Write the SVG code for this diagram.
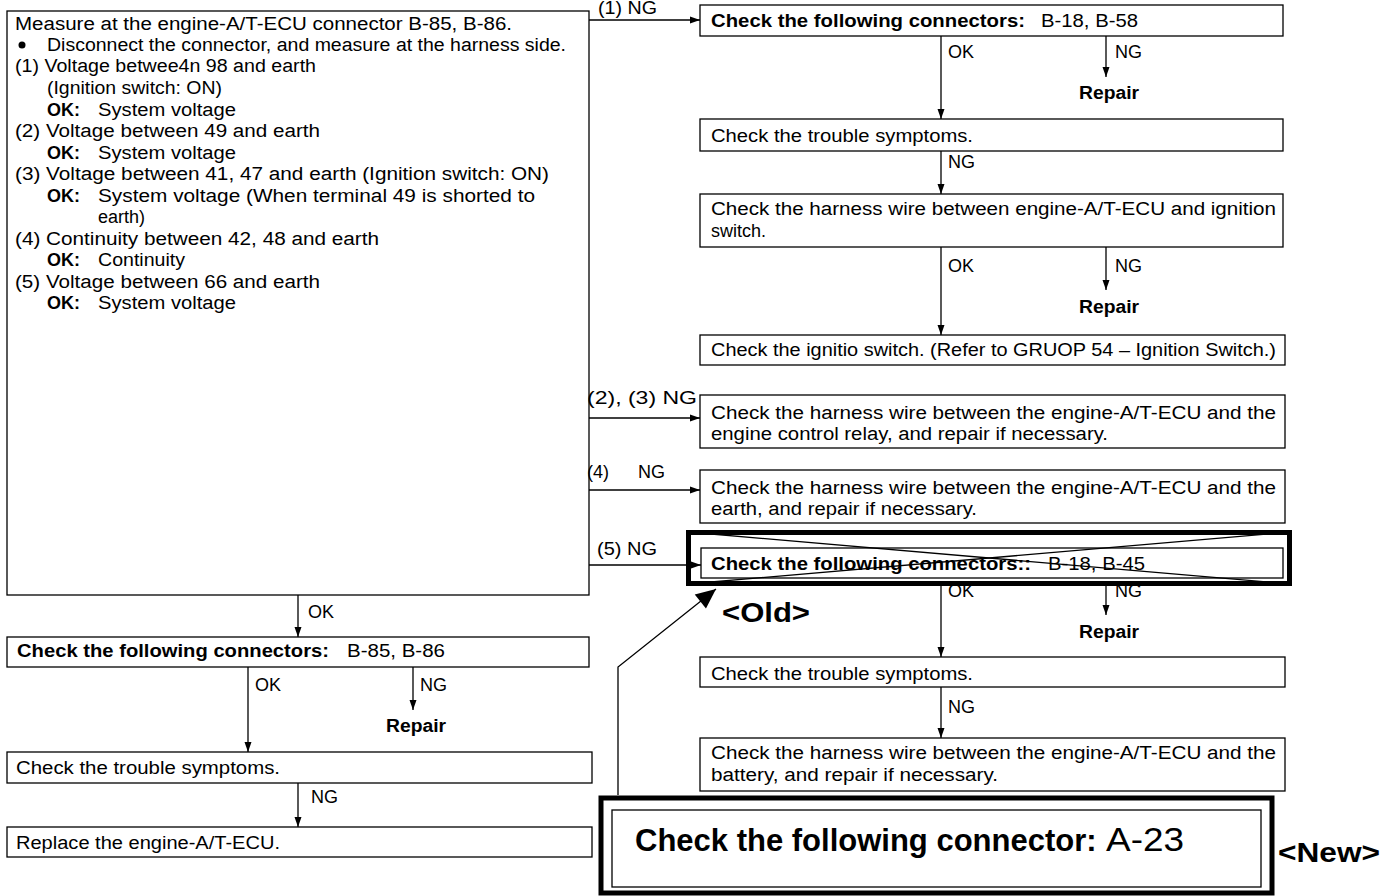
<svg xmlns="http://www.w3.org/2000/svg" width="1395" height="896" viewBox="0 0 1395 896">
  <defs>
    <marker id="arr" viewBox="0 0 10 10" refX="10" refY="5" markerWidth="10" markerHeight="13" markerUnits="userSpaceOnUse" orient="auto">
      <path d="M0,1.5 L10,5 L0,8.5 Z" fill="#000"/>
    </marker>
    <marker id="bigarr" viewBox="0 0 10 10" refX="10" refY="5" markerWidth="26" markerHeight="20" markerUnits="userSpaceOnUse" orient="auto">
      <path d="M0,0.5 L10,5 L0,9.5 Z" fill="#000"/>
    </marker>
  </defs>
  <style>
    text { font-family: "Liberation Sans", Arial, sans-serif; font-size: 18px; fill: #000; }
    .b { font-weight: bold; }
    .box { fill: #fff; stroke: #000; stroke-width: 1.3; }
    .thick { fill: none; stroke: #000; stroke-width: 5; }
    .ln { fill: none; stroke: #000; stroke-width: 1.3; }
    .big { font-size: 33px; }
    .bigb { font-size: 31px; font-weight: bold; }
    .tag { font-size: 28px; font-weight: bold; }
  </style>
  <rect width="1395" height="896" fill="#fff"/>

  <!-- main measurement box -->
  <g id="measure">
    <rect class="box" x="7" y="11" width="582" height="584"/>
    <text x="15" y="30" textLength="497" lengthAdjust="spacingAndGlyphs">Measure at the engine-A/T-ECU connector B-85, B-86.</text>
    <circle cx="22" cy="45" r="3.5" fill="#000"/>
    <text x="47" y="51" textLength="519" lengthAdjust="spacingAndGlyphs">Disconnect the connector, and measure at the harness side.</text>
    <text x="15" y="72" textLength="301" lengthAdjust="spacingAndGlyphs">(1) Voltage betwee4n 98 and earth</text>
    <text x="47" y="94" textLength="175" lengthAdjust="spacingAndGlyphs">(Ignition switch: ON)</text>
    <text x="47" y="116"><tspan class="b">OK:</tspan><tspan x="98" textLength="138" lengthAdjust="spacingAndGlyphs">System voltage</tspan></text>
    <text x="15" y="137" textLength="305" lengthAdjust="spacingAndGlyphs">(2) Voltage between 49 and earth</text>
    <text x="47" y="159"><tspan class="b">OK:</tspan><tspan x="98" textLength="138" lengthAdjust="spacingAndGlyphs">System voltage</tspan></text>
    <text x="15" y="180" textLength="534" lengthAdjust="spacingAndGlyphs">(3) Voltage between 41, 47 and earth (Ignition switch: ON)</text>
    <text x="47" y="202"><tspan class="b">OK:</tspan><tspan x="98" textLength="437" lengthAdjust="spacingAndGlyphs">System voltage (When terminal 49 is shorted to</tspan></text>
    <text x="98" y="223">earth)</text>
    <text x="15" y="245" textLength="364" lengthAdjust="spacingAndGlyphs">(4) Continuity between 42, 48 and earth</text>
    <text x="47" y="266"><tspan class="b">OK:</tspan><tspan x="98" textLength="87" lengthAdjust="spacingAndGlyphs">Continuity</tspan></text>
    <text x="15" y="288" textLength="305" lengthAdjust="spacingAndGlyphs">(5) Voltage between 66 and earth</text>
    <text x="47" y="309"><tspan class="b">OK:</tspan><tspan x="98" textLength="138" lengthAdjust="spacingAndGlyphs">System voltage</tspan></text>
  </g>

  <!-- right column, branch (1) -->
  <g id="conn-b18-b58">
    <rect class="box" x="700" y="5" width="583" height="31"/>
    <text x="711" y="27"><tspan class="b" textLength="314" lengthAdjust="spacingAndGlyphs">Check the following connectors:</tspan><tspan x="1041" textLength="97" lengthAdjust="spacingAndGlyphs">B-18, B-58</tspan></text>
  </g>
  <g id="repair-1"><text class="b" x="1079" y="99" textLength="60" lengthAdjust="spacingAndGlyphs">Repair</text></g>
  <g id="symptoms-1">
    <rect class="box" x="700" y="119" width="583" height="32"/>
    <text x="711" y="142" textLength="262" lengthAdjust="spacingAndGlyphs">Check the trouble symptoms.</text>
  </g>
  <g id="harness-ign">
    <rect class="box" x="700" y="194" width="583" height="53"/>
    <text x="711" y="215" textLength="565" lengthAdjust="spacingAndGlyphs">Check the harness wire between engine-A/T-ECU and ignition</text>
    <text x="711" y="237">switch.</text>
  </g>
  <g id="repair-2"><text class="b" x="1079" y="313" textLength="60" lengthAdjust="spacingAndGlyphs">Repair</text></g>
  <g id="ign-switch">
    <rect class="box" x="700" y="335" width="585" height="30"/>
    <text x="711" y="356" textLength="565" lengthAdjust="spacingAndGlyphs">Check the ignitio switch. (Refer to GRUOP 54 – Ignition Switch.)</text>
  </g>

  <!-- branches (2)-(4) -->
  <g id="harness-relay">
    <rect class="box" x="700" y="395" width="585" height="53"/>
    <text x="711" y="419" textLength="565" lengthAdjust="spacingAndGlyphs">Check the harness wire between the engine-A/T-ECU and the</text>
    <text x="711" y="440" textLength="397" lengthAdjust="spacingAndGlyphs">engine control relay, and repair if necessary.</text>
  </g>
  <g id="harness-earth">
    <rect class="box" x="700" y="470" width="585" height="53"/>
    <text x="711" y="494" textLength="565" lengthAdjust="spacingAndGlyphs">Check the harness wire between the engine-A/T-ECU and the</text>
    <text x="711" y="515" textLength="266" lengthAdjust="spacingAndGlyphs">earth, and repair if necessary.</text>
  </g>

  <!-- branch (5), superseded step -->
  <g id="conn-b18-b45-old">
    <rect class="box" x="701" y="548" width="582" height="30"/>
    <text x="711" y="570"><tspan class="b" textLength="320" lengthAdjust="spacingAndGlyphs">Check the following connectors::</tspan><tspan x="1048" textLength="97" lengthAdjust="spacingAndGlyphs">B-18, B-45</tspan></text>
    <rect class="thick" x="688.5" y="532.5" width="601" height="51"/>
    <line class="ln" x1="688" y1="532" x2="1290" y2="584"/>
    <line class="ln" x1="688" y1="584" x2="1290" y2="532"/>
  </g>
  <g id="old-tag"><text class="tag" x="722" y="622" textLength="88" lengthAdjust="spacingAndGlyphs">&lt;Old&gt;</text></g>
  <g id="repair-3"><text class="b" x="1079" y="638" textLength="60" lengthAdjust="spacingAndGlyphs">Repair</text></g>
  <g id="symptoms-2">
    <rect class="box" x="700" y="657" width="585" height="30"/>
    <text x="711" y="680" textLength="262" lengthAdjust="spacingAndGlyphs">Check the trouble symptoms.</text>
  </g>
  <g id="harness-battery">
    <rect class="box" x="700" y="738" width="585" height="53"/>
    <text x="711" y="759" textLength="565" lengthAdjust="spacingAndGlyphs">Check the harness wire between the engine-A/T-ECU and the</text>
    <text x="711" y="781" textLength="287" lengthAdjust="spacingAndGlyphs">battery, and repair if necessary.</text>
  </g>

  <!-- replacement step -->
  <g id="conn-a23-new">
    <rect class="thick" x="601" y="798" width="671" height="95" stroke-width="6"/>
    <rect class="box" x="612" y="810" width="649" height="77" stroke-width="1.6"/>
    <text class="bigb" x="635" y="851">Check the following connector:</text>
    <text class="big" x="1106" y="851" textLength="78" lengthAdjust="spacingAndGlyphs">A-23</text>
  </g>
  <g id="new-tag"><text class="tag" x="1278" y="862" textLength="102" lengthAdjust="spacingAndGlyphs">&lt;New&gt;</text></g>

  <!-- left column, OK path -->
  <g id="conn-b85-b86">
    <rect class="box" x="7" y="637" width="582" height="30"/>
    <text x="17" y="657"><tspan class="b" textLength="312" lengthAdjust="spacingAndGlyphs">Check the following connectors:</tspan><tspan x="347" textLength="98" lengthAdjust="spacingAndGlyphs">B-85, B-86</tspan></text>
  </g>
  <g id="repair-4"><text class="b" x="386" y="732" textLength="60" lengthAdjust="spacingAndGlyphs">Repair</text></g>
  <g id="symptoms-3">
    <rect class="box" x="7" y="752" width="585" height="31"/>
    <text x="16" y="774" textLength="264" lengthAdjust="spacingAndGlyphs">Check the trouble symptoms.</text>
  </g>
  <g id="replace-ecu">
    <rect class="box" x="7" y="827" width="585" height="30"/>
    <text x="16" y="849" textLength="264" lengthAdjust="spacingAndGlyphs">Replace the engine-A/T-ECU.</text>
  </g>

  <!-- connectors -->
  <g id="connectors">
    <path class="ln" d="M589,20 H700" marker-end="url(#arr)"/>
    <path class="ln" d="M589,418 H700" marker-end="url(#arr)"/>
    <path class="ln" d="M589,490 H700" marker-end="url(#arr)"/>
    <path class="ln" d="M589,565 H701" marker-end="url(#arr)"/>
    <path class="ln" d="M941,36 V119" marker-end="url(#arr)"/>
    <path class="ln" d="M1106,36 V77" marker-end="url(#arr)"/>
    <path class="ln" d="M941,151 V194" marker-end="url(#arr)"/>
    <path class="ln" d="M941,247 V335" marker-end="url(#arr)"/>
    <path class="ln" d="M1106,247 V290" marker-end="url(#arr)"/>
    <path class="ln" d="M941,586 V657" marker-end="url(#arr)"/>
    <path class="ln" d="M1106,586 V615" marker-end="url(#arr)"/>
    <path class="ln" d="M941,687 V738" marker-end="url(#arr)"/>
    <path class="ln" d="M298,595 V637" marker-end="url(#arr)"/>
    <path class="ln" d="M248,667 V752" marker-end="url(#arr)"/>
    <path class="ln" d="M413,667 V710" marker-end="url(#arr)"/>
    <path class="ln" d="M298,783 V827" marker-end="url(#arr)"/>
    <path class="ln" d="M618,795 V667 L716,589" stroke-width="1.8" marker-end="url(#bigarr)"/>

    <text x="598" y="14" textLength="59" lengthAdjust="spacingAndGlyphs">(1) NG</text>
    <text x="587" y="404" textLength="110" lengthAdjust="spacingAndGlyphs">(2), (3) NG</text>
    <text x="587" y="478">(4)<tspan x="638">NG</tspan></text>
    <text x="597" y="555" textLength="60" lengthAdjust="spacingAndGlyphs">(5) NG</text>
    <text x="948" y="58">OK</text>
    <text x="1115" y="58">NG</text>
    <text x="948" y="168">NG</text>
    <text x="948" y="272">OK</text>
    <text x="1115" y="272">NG</text>
    <text x="948" y="597">OK</text>
    <text x="1115" y="597">NG</text>
    <text x="948" y="713">NG</text>
    <text x="308" y="618">OK</text>
    <text x="255" y="691">OK</text>
    <text x="420" y="691">NG</text>
    <text x="311" y="803">NG</text>
  </g>
</svg>
